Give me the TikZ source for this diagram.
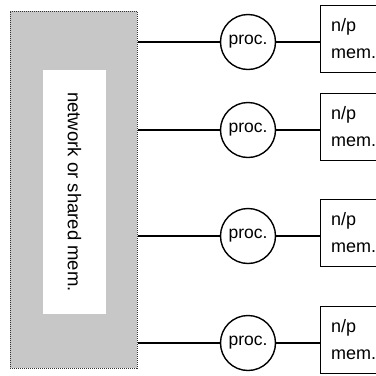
\documentclass[tikz,border=0pt]{standalone}
\usepackage{fontspec}
\setmainfont{Liberation Sans}
\begin{document}
\begin{tikzpicture}[x=1pt,y=-1pt,
    netbox/.style={draw=black!80,densely dotted,line width=1pt,fill=black!22,
      minimum width=127pt,minimum height=357pt,inner sep=0pt},
    netlabel/.style={fill=white,minimum width=63pt,minimum height=244pt,
      inner sep=0pt,font=\fontsize{18.5}{20}\selectfont},
    proc/.style={draw,circle,line width=1.4pt,minimum size=55pt,inner sep=0pt,
      font=\fontsize{17.5}{20}\selectfont},
    mem/.style={draw,line width=1.4pt,anchor=west,minimum width=64pt,
      minimum height=67pt,inner xsep=11pt,align=left,text width=42pt,
      font=\fontsize{18}{27}\selectfont},
    link/.style={line width=1.4pt}]
  \clip (0,0) rectangle (376,376);
  \node[netbox] (net) at (73.5,189.5) {};
  \node[netlabel] (lab) at (74.5,192) {};
  \node[rotate=-90,font=\fontsize{18.5}{20}\selectfont] (labtext) at (lab) {network or shared mem.};
  \foreach \i/\y in {1/42,2/130,3/236,4/343}{
    \node[proc] (p\i) at (248,\y) {proc.};
    \node[mem] (m\i) at (319.5,{\y-3}) {n/p\\mem.};
    \draw[link] (net.east |- p\i) -- (p\i);
    \draw[link] (p\i) -- (m\i.west |- p\i);
  }
\end{tikzpicture}
\end{document}
